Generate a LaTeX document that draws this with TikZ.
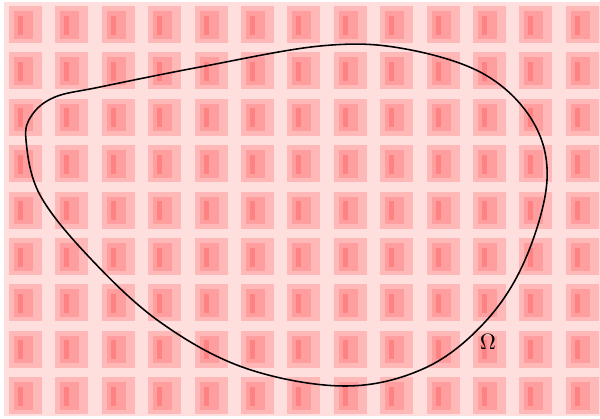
\documentclass[tikz,border=0pt]{standalone}
\usepackage{amsmath,amssymb}
\usepackage{tikz}
\usetikzlibrary{positioning}
\definecolor{tileBack}{HTML}{FFDEDE}
\definecolor{tileOuter}{HTML}{FFB8B8}
\definecolor{tileInner}{HTML}{FF9E9E}
\definecolor{tileBar}{HTML}{FF8282}

\begin{document}
\begin{tikzpicture}[x=0.45pt,y=-0.45pt,
  outer/.style={fill=tileOuter},
  inner/.style={fill=tileInner},
  bar/.style={fill=tileBar},
  boundary/.style={draw=black,line width=0.7pt}]
  \useasboundingbox (0,0) rectangle (600,418);
  \fill[tileBack] (4,2) rectangle (600,416);
  % tiles
  \foreach \i in {0,...,8}{
    \foreach \j in {0,...,12}{
      \begin{scope}[shift={(46.4*\j,46.4*\i)}]
        \fill[outer] (9,6) rectangle (42,43);
        \fill[inner] (14,11) rectangle (33,38.5);
        \fill[bar] (18,15.5) rectangle (23,34.5);
      \end{scope}
    }
  }
  % the domain
  \draw[boundary] plot[smooth cycle,tension=0.6] coordinates {
    (26,140) (40,195) (90,258) (160,322) (245,368) (345,386)
    (425,368) (485,322) (525,260) (547,180) (532,120) (482,73)
    (400,48) (320,46) (200,67) (100,87) (55,97) (32,115)};
  \node (omega) at (488,342) {$\Omega$};
\end{tikzpicture}
\end{document}
